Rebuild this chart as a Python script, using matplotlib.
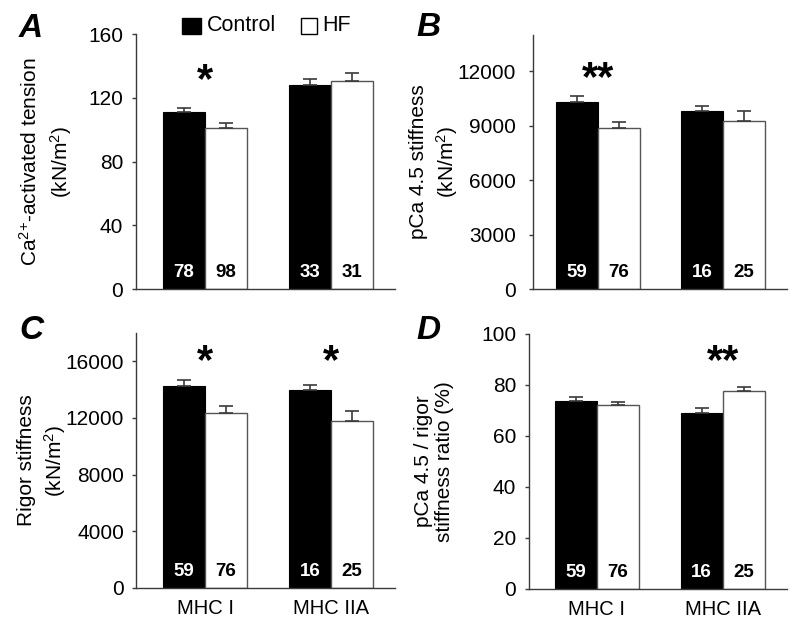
import matplotlib.pyplot as plt
import numpy as np

plt.rcParams['font.family'] = ['Liberation Sans', 'DejaVu Sans']
plt.rcParams['mathtext.fontset'] = 'custom'
plt.rcParams['mathtext.rm'] = 'Liberation Sans'
plt.rcParams['mathtext.it'] = 'Liberation Sans:italic'
plt.rcParams['mathtext.bf'] = 'Liberation Sans:bold'
plt.rcParams['mathtext.default'] = 'regular'

groups = ['MHC I', 'MHC IIA']

# panel A: Ca2+-activated tension (kN/m2)
tension_ctrl = [111, 128]
tension_ctrl_err = [2.3, 3.5]
tension_hf = [101, 130.5]
tension_hf_err = [3.3, 5.2]
tension_n_ctrl = [78, 33]
tension_n_hf = [98, 31]

# panel B: pCa 4.5 stiffness (kN/m2)
pca_ctrl = [10330, 9785]
pca_ctrl_err = [300, 280]
pca_hf = [8865, 9275]
pca_hf_err = [355, 530]

# panel C: rigor stiffness (kN/m2)
rigor_ctrl = [14235, 14000]
rigor_ctrl_err = [450, 350]
rigor_hf = [12350, 11810]
rigor_hf_err = [500, 680]

# panel D: ratio (%)
ratio_ctrl = [73.8, 69.2]
ratio_ctrl_err = [1.3, 1.6]
ratio_hf = [72.1, 77.5]
ratio_hf_err = [1.3, 1.9]

n_ctrl = [59, 16]
n_hf = [76, 25]

# significance marks: (group index, text, y position)
stars_a = [(0, '*', 130.5)]
stars_b = [(0, '**', 11550)]
stars_c = [(0, '*', 15950), (1, '*', 15950)]
stars_d = [(1, '**', 89.1)]

AXIS_COLOR = '#3a3a3a'
W = 0.333

fig = plt.figure(figsize=(8, 6.29), dpi=100)

def panel(rect, ctrl, ctrl_err, hf, hf_err, nc, nh, ylim, yticks, ylabel, stars,
          xlim, show_x, tick_pad, label_x, spacing):
    ax = fig.add_axes(rect)
    x = np.arange(len(groups))
    ax.bar(x - W / 2, ctrl, W, color='black', edgecolor='black', linewidth=0.8,
           yerr=[np.zeros(len(ctrl)), ctrl_err], ecolor=AXIS_COLOR,
           error_kw=dict(capsize=5, elinewidth=1.2, capthick=1.2))
    ax.bar(x + W / 2, hf, W, color='white', edgecolor='#555555', linewidth=1.0,
           yerr=[np.zeros(len(hf)), hf_err], ecolor=AXIS_COLOR,
           error_kw=dict(capsize=5, elinewidth=1.2, capthick=1.2))
    for i in range(len(groups)):
        ax.annotate(str(nc[i]), (x[i] - W / 2, 0), xytext=(0, 12),
                    textcoords='offset points', ha='center', va='center',
                    color='white', fontsize=13.5, fontweight='bold')
        ax.annotate(str(nh[i]), (x[i] + W / 2, 0), xytext=(0, 12),
                    textcoords='offset points', ha='center', va='center',
                    color='black', fontsize=13.5, fontweight='bold')
    for g, s, y in stars:
        ax.text(x[g], y, s, ha='center', va='center', fontsize=30,
                fontweight='bold')
    ax.set_ylim(*ylim)
    ax.set_yticks(yticks)
    ax.set_xlim(*xlim)
    ax.set_ylabel(ylabel, fontsize=15, linespacing=spacing)
    ax.yaxis.set_label_coords(label_x, 0.5)
    for side in ['top', 'right']:
        ax.spines[side].set_visible(False)
    for side in ['left', 'bottom']:
        ax.spines[side].set_color(AXIS_COLOR)
        ax.spines[side].set_linewidth(1.0)
    ax.tick_params(axis='y', length=3, width=1, color=AXIS_COLOR, pad=tick_pad,
                   labelsize=15)
    ax.tick_params(axis='x', length=0, pad=8, labelsize=14.5)
    ax.set_xticks(x)
    if show_x:
        ax.set_xticklabels(groups)
    else:
        ax.set_xticklabels([])
    return ax

panel([0.170, 0.5405, 0.324, 0.4054], tension_ctrl, tension_ctrl_err, tension_hf,
      tension_hf_err, tension_n_ctrl, tension_n_hf, (0, 160), [0, 40, 80, 120, 160],
      'Ca$^{2{+}}$-activated tension\n(kN/m$^2$)', stars_a, (-0.548, 1.508), False,
      6.3, -0.24, 1.35)
panel([0.666, 0.5405, 0.3175, 0.404], pca_ctrl, pca_ctrl_err, pca_hf, pca_hf_err,
      n_ctrl, n_hf, (0, 14000), [0, 3000, 6000, 9000, 12000],
      'pCa 4.5 stiffness\n(kN/m$^2$)', stars_b, (-0.522, 1.51), False,
      9.0, -0.288, 1.3)
panel([0.170, 0.0652, 0.324, 0.4054], rigor_ctrl, rigor_ctrl_err, rigor_hf,
      rigor_hf_err, n_ctrl, n_hf, (0, 18000), [0, 4000, 8000, 12000, 16000],
      'Rigor stiffness\n(kN/m$^2$)', stars_c, (-0.548, 1.508), True,
      5.5, -0.262, 1.3)
panel([0.661, 0.0636, 0.3225, 0.4054], ratio_ctrl, ratio_ctrl_err, ratio_hf,
      ratio_hf_err, n_ctrl, n_hf, (0, 100), [0, 20, 40, 60, 80, 100],
      'pCa 4.5 / rigor\nstiffness ratio (%)', stars_d, (-0.542, 1.51), True,
      6.0, -0.29, 1.15)

# panel letters
for lx, ly, letter in [(0.039, 0.954, 'A'), (0.536, 0.957, 'B'),
                       (0.039, 0.474, 'C'), (0.536, 0.474, 'D')]:
    fig.text(lx, ly, letter, fontsize=24, fontweight='bold', style='italic',
             ha='center', va='center')

# legend
fig.patches.append(plt.Rectangle((0.228, 0.946), 0.0234, 0.0254, facecolor='black',
                                 edgecolor='black', transform=fig.transFigure))
fig.text(0.259, 0.9595, 'Control', fontsize=15.5, va='center')
fig.patches.append(plt.Rectangle((0.376, 0.946), 0.02, 0.025, facecolor='white',
                                 edgecolor='black', linewidth=1,
                                 transform=fig.transFigure))
fig.text(0.403, 0.9595, 'HF', fontsize=15.5, va='center')

fig.savefig('out.png', dpi=100)
